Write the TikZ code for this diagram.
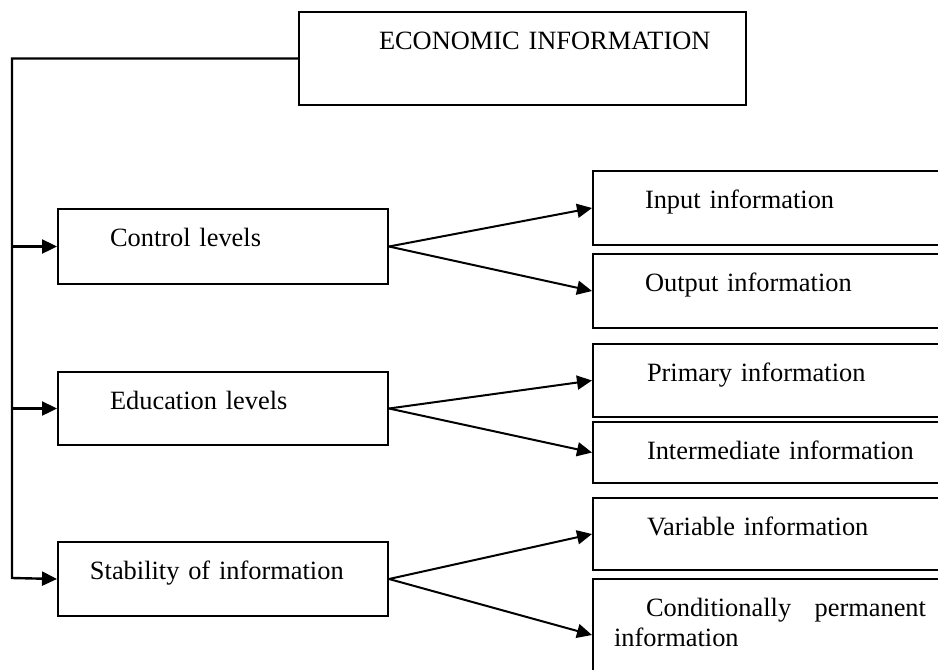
\documentclass[tikz,border=0pt]{standalone}
\usepackage{fontspec}
\setmainfont{Liberation Serif}
\usetikzlibrary{arrows.meta}

\begin{document}
\begin{tikzpicture}[x=0.5pt, y=-0.5pt, font=\fontsize{13.2pt}{15pt}\selectfont,
	infobox/.style={draw, line width=1pt, anchor=north west, inner sep=0pt, align=left, text height=18.5pt},
	leftbox/.style={infobox, text width=165pt},
	rightbox/.style={infobox, text width=177pt},
	branch/.style={-{Triangle[length=7.5pt, width=7pt]}, line width=1pt}]
	\useasboundingbox (0,0) rectangle (938,670);
	\clip (0,0) rectangle (938,670);

	\node[infobox, text width=223.5pt, text depth=28pt] (econ) at (298,11) {\hspace*{40pt}ECONOMIC INFORMATION};

	\node[leftbox, text depth=19pt] (control) at (57,208) {\hspace*{26pt}Control levels};
	\node[leftbox, text depth=18pt] (education) at (57,371) {\hspace*{26pt}Education levels};
	\node[leftbox, text depth=18.5pt] (stability) at (57,541) {\hspace*{16pt}Stability of information};

	\node[rightbox, text depth=18.5pt] (input) at (592,170) {\hspace*{26pt}Input information};
	\node[rightbox, text depth=18.5pt] (output) at (592,253) {\hspace*{26pt}Output information};
	\node[rightbox, text depth=18pt] (primary) at (592,343) {\hspace*{27pt}Primary information};
	\node[rightbox, text depth=12pt] (intermediate) at (592,421) {\hspace*{27pt}Intermediate information};
	\node[rightbox, text depth=17.5pt] (variable) at (592,497) {\hspace*{27pt}Variable information};
	\node[rightbox, inner xsep=10.5pt, text width=156pt, align=justify, text depth=37.5pt] (permanent) at (592,578) {\hspace*{16pt}Conditionally permanent information};

	% trunk on the left
	\coordinate (trunk) at (12,578);
	\draw[branch, line width=1.2pt] (econ.west) -| (trunk) -- (stability.west);
	\draw[branch, line width=1.2pt] (trunk |- control.west) -- (control.west);
	\draw[branch, line width=1.2pt] (trunk |- education.west) -- (education.west);

	\draw[branch] (control.east) -- (input.west);
	\draw[branch] (control.east) -- (output.west);
	\draw[branch] (education.east) -- (primary.west);
	\draw[branch] (education.east) -- (intermediate.west);
	\draw[branch] (stability.east) -- (variable.west);
	\draw[branch] (stability.east) -- (permanent.west);
\end{tikzpicture}
\end{document}
